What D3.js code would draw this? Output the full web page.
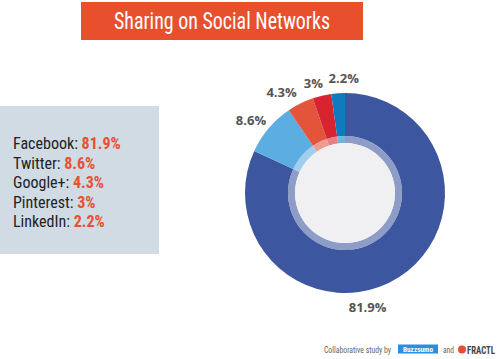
<!DOCTYPE html>
<html>
<head>
<meta charset="utf-8">
<script src="https://cdn.jsdelivr.net/npm/d3@7"></script>
<style>
  html, body { margin: 0; padding: 0; background: #fff; }
  svg { display: block; }
</style>
</head>
<body>
<div class="figure"></div>
<script>
// data
var networks = ["Facebook", "Twitter", "Google+", "Pinterest", "LinkedIn"]
var shares = [81.9, 8.6, 4.3, 3, 2.2]
var shareLabels = ["81.9%", "8.6%", "4.3%", "3%", "2.2%"]

var colors = ["#3c57a0", "#5cade2", "#e2553b", "#d82430", "#0e7bbf"]

var dim = { w: 500, h: 359 }

var condensed = "'Liberation Sans Narrow', 'Roboto Condensed', 'Arial Narrow', sans-serif"

var svg = d3.select("div.figure")
    .append("svg")
    .attr("width", dim.w)
    .attr("height", dim.h)

// title bar
var title = { x: 81, y: 2, w: 282, h: 38 }
svg.append("rect")
    .attr("x", title.x).attr("y", title.y)
    .attr("width", title.w).attr("height", title.h)
    .attr("fill", "#e84f2d")
svg.append("text")
    .attr("x", title.x + title.w / 2)
    .attr("y", title.y + 27)
    .attr("text-anchor", "middle")
    .attr("textLength", 216)
    .attr("lengthAdjust", "spacingAndGlyphs")
    .style("font-family", condensed)
    .style("font-size", "24px")
    .style("fill", "#fff")
    .text("Sharing on Social Networks")

// legend panel
var panel = { x: 0, y: 106, w: 159, h: 148 }
svg.append("rect")
    .attr("x", panel.x).attr("y", panel.y)
    .attr("width", panel.w).attr("height", panel.h)
    .attr("fill", "#d1dbe4")

var legY = d3.scalePoint()
    .domain(networks)
    .range([149, 227])

var leg = svg.append("g")
    .selectAll("text")
    .data(networks)
    .enter()
    .append("text")
    .attr("x", 13)
    .attr("y", function(d) { return legY(d) })
    .style("font-family", condensed)
    .style("font-size", "16px")
leg.append("tspan")
    .style("fill", "#222")
    .text(function(d) { return d + ": " })
leg.append("tspan")
    .style("fill", "#e8502f")
    .style("font-weight", "bold")
    .text(function(d, i) { return shareLabels[i] })

// donut
var donut = { cx: 345, cy: 193, outer: 100, inner: 57, ring: 50 }

var pie = d3.pie().sort(null).value(function(d) { return d })
var arcs = pie(shares)

var arc = d3.arc()
    .innerRadius(donut.inner)
    .outerRadius(donut.outer)

var g = svg.append("g")
    .attr("transform", "translate(" + donut.cx + "," + donut.cy + ")")

g.selectAll("path.slice")
    .data(arcs)
    .enter()
    .append("path")
    .attr("class", "slice")
    .attr("d", arc)
    .attr("fill", function(d, i) { return colors[i] })

// inner translucent ring (slices show through, lighter)
var ringArc = d3.arc().innerRadius(donut.ring).outerRadius(donut.inner)
g.selectAll("path.ring")
    .data(arcs)
    .enter()
    .append("path")
    .attr("class", "ring")
    .attr("d", ringArc)
    .attr("fill", function(d, i) { return colors[i] })
g.append("circle")
    .attr("r", donut.inner)
    .attr("fill", "#fff")
    .attr("opacity", 0.42)
g.append("circle")
    .attr("r", donut.ring)
    .attr("fill", "#f0f0f2")

// value labels, placed off the arc centroid then nudged like the original
var labelArc = d3.arc().innerRadius(120).outerRadius(120)
var labelNudge = [[-42, 18], [-2.5, 10], [-10, 11.5], [-4, 12], [7, 10]]

g.selectAll("text.val")
    .data(arcs)
    .enter()
    .append("text")
    .attr("class", "val")
    .attr("x", function(d, i) { return labelArc.centroid(d)[0] + labelNudge[i][0] })
    .attr("y", function(d, i) { return labelArc.centroid(d)[1] + labelNudge[i][1] })
    .attr("text-anchor", "middle")
    .style("font-family", "'Open Sans', sans-serif")
    .style("font-weight", "bold")
    .style("font-size", "13px")
    .style("fill", "#555")
    .text(function(d, i) { return shareLabels[i] })

// footer
var foot = svg.append("g")
foot.append("text")
    .attr("x", 324).attr("y", 353)
    .attr("textLength", 67)
    .attr("lengthAdjust", "spacingAndGlyphs")
    .style("font-family", condensed)
    .style("font-size", "9px")
    .style("fill", "#666")
    .text("Collaborative study by")
foot.append("rect")
    .attr("x", 398).attr("y", 344.5)
    .attr("width", 40).attr("height", 9)
    .attr("fill", "#2d8fdc")
foot.append("text")
    .attr("x", 418).attr("y", 351.5)
    .attr("text-anchor", "middle")
    .attr("textLength", 30)
    .attr("lengthAdjust", "spacingAndGlyphs")
    .style("font-family", condensed)
    .style("font-weight", "bold")
    .style("font-size", "7px")
    .style("fill", "#fff")
    .text("Buzzsumo")
foot.append("text")
    .attr("x", 443).attr("y", 353)
    .attr("textLength", 11)
    .attr("lengthAdjust", "spacingAndGlyphs")
    .style("font-family", condensed)
    .style("font-size", "9px")
    .style("fill", "#666")
    .text("and")
foot.append("circle")
    .attr("cx", 462).attr("cy", 349.5)
    .attr("r", 4)
    .attr("fill", "#e8502f")
foot.append("text")
    .attr("x", 467).attr("y", 353.5)
    .attr("textLength", 28)
    .attr("lengthAdjust", "spacingAndGlyphs")
    .style("font-family", condensed)
    .style("font-weight", "bold")
    .style("font-size", "10px")
    .style("fill", "#444")
    .text("FRACTL")
</script>
</body>
</html>
